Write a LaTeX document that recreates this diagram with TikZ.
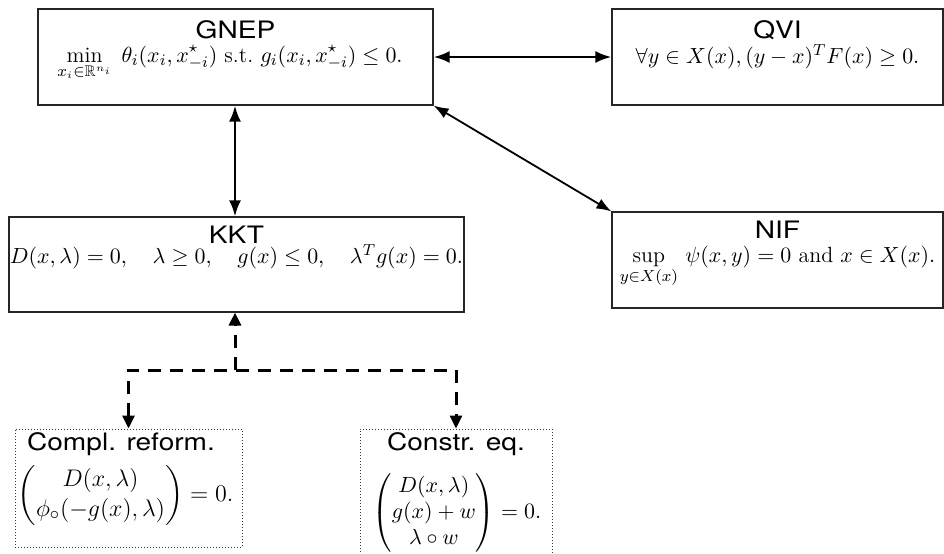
\documentclass[tikz,border=0pt]{standalone}
\usepackage{amsmath,amssymb}
\usepackage{fontspec}
\newfontfamily\hv{TeX Gyre Heros}
\usetikzlibrary{arrows.meta,calc}
\newcommand{\wtitle}[1]{\scalebox{1.17}[1]{#1}}
\tikzset{
  box/.style={draw=black!85, line width=0.55pt, inner sep=0pt},
  dbox/.style={draw=black!80, line width=0.5pt, densely dotted, inner sep=0pt},
  ttl/.style={inner sep=0pt, font=\hv\fontsize{12}{14}\selectfont},
  frm/.style={inner sep=0pt, font=\fontsize{11}{13}\selectfont},
  thickarr/.style={line width=1.3pt, {Latex[length=8pt,width=6pt]}-{Latex[length=8pt,width=6pt]}},
  thinarr/.style={line width=0.9pt, {Latex[length=7.5pt,width=5.5pt]}-{Latex[length=7.5pt,width=5.5pt]}},
  dsh/.style={line width=1.5pt, dash pattern=on 6.5pt off 4.5pt},
  dtip/.style={-{Triangle[length=6.5pt,width=6pt]}}
}
\begin{document}
\begin{tikzpicture}[x=0.5pt,y=-0.5pt]
\useasboundingbox (0,0) rectangle (944,553);
% boxes
\node[box, minimum width=197.5pt, minimum height=48pt] (gnep) at (235.5,57) {};
\node[box, minimum width=165.5pt, minimum height=48pt] (qvi) at (777.5,57) {};
\node[box, minimum width=227.5pt, minimum height=47.5pt] (kkt) at (236.5,264.5) {};
\node[box, minimum width=165.5pt, minimum height=48pt] (nif) at (777.5,260) {};
\node[dbox, minimum width=113.5pt, minimum height=59pt] (compl) at (128.5,488) {};
\node[dbox, minimum width=96pt, minimum height=68pt] (constr) at (456,497) {};
% titles
\node[ttl] (tg) at (235.5,30) {\wtitle{GNEP}};
\node[ttl] (tq) at (777.5,30) {\wtitle{QVI}};
\node[ttl] (tk) at (236.5,235) {\wtitle{KKT}};
\node[ttl] (tn) at (777.5,230) {\wtitle{NIF}};
\node[ttl] (tc) at (121,444) {\wtitle{Compl. reform.}};
\node[ttl] (te) at (456,444) {\wtitle{Constr. eq.}};
% formulas
\node[frm, anchor=base] (fg) at (230,62) {$\displaystyle \min_{x_i\in\mathbb{R}^{n_i}}\; \theta_i(x_i,x^{\star}_{-i})\ \text{s.t.}\ g_i(x_i,x^{\star}_{-i})\le 0.$};
\node[frm, anchor=base] (fq) at (777.5,63) {$\forall y\in X(x), (y-x)^T F(x)\ge 0.$};
\node[frm, anchor=base] (fk) at (236.5,263) {$D(x,\lambda)=0,\quad \lambda\ge 0,\quad g(x)\le 0,\quad \lambda^T g(x)=0.$};
\node[frm, anchor=base] (fn) at (777.5,262) {$\displaystyle \sup_{y\in X(x)}\, \psi(x,y)=0\ \text{and}\ x\in X(x).$};
\node[frm, font=\fontsize{12.5}{15}\selectfont] (fc) at (125.5,495) {$\begin{pmatrix} D(x,\lambda)\\ \phi_\circ(-g(x),\lambda)\end{pmatrix}=0.$};
\node[frm] (fe) at (457,513) {$\begin{pmatrix} D(x,\lambda)\\ g(x)+w\\ \lambda\circ w\end{pmatrix}=0.$};
% connectors
\draw[thickarr] (gnep.east) -- (qvi.west);
\draw[thickarr] (gnep.south -| 235,0) -- (kkt.north -| 235,0);
\draw[thinarr] (gnep.south east) -- (nif.north west);
\coordinate (j) at (235,370);
\draw[dsh, dtip] (j) -- (kkt.south -| j);
\draw[dsh, {Triangle[length=6.5pt,width=6pt]}-{Triangle[length=6.5pt,width=6pt]}] (compl.north) -- (compl.north |- j) -- (constr.north |- j) -- (constr.north);
\end{tikzpicture}
\end{document}
